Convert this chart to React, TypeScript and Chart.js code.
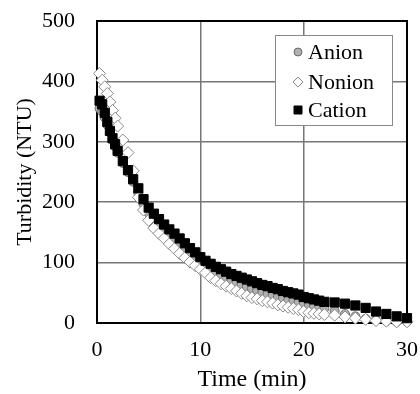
import { useEffect, useRef } from "react";
import { Chart, registerables } from "chart.js";

Chart.register(...registerables);

const times = [
  0.25, 0.5, 0.75, 1, 1.25, 1.5, 1.75, 2,
  2.5, 3, 3.5, 4, 4.5, 5, 5.5, 6, 6.5, 7, 7.5, 8, 8.5, 9, 9.5, 10,
  10.5, 11, 11.5, 12, 12.5, 13, 13.5, 14, 14.5, 15, 15.5, 16, 16.5, 17, 17.5, 18,
  18.5, 19, 19.5, 20, 20.5, 21, 21.5, 22,
  23, 24, 25, 26, 27, 28, 29, 30,
];

const anion = [
  355, 350, 340, 328, 315, 303, 292, 282,
  265, 250, 234, 215, 197, 182, 170, 161, 152, 144, 136, 128, 121, 114, 107, 100,
  94, 89, 84, 79, 75, 71, 67, 64, 60, 57, 54, 51, 48, 46, 43, 41,
  38, 36, 34, 32, 30, 28, 26, 24,
  20, 15, 11, 7, 5, 3, 2, 2,
];

const nonion = [
  413, 402, 391, 380, 366, 352, 339, 326,
  303, 282, 252, 208, 187, 170, 157, 148, 140, 131, 123, 115, 108, 101, 95, 89,
  83, 75, 70, 65, 61, 57, 53, 49, 45, 42, 40, 37, 35, 33, 30, 28,
  26, 24, 22, 19, 17, 16, 15, 14,
  13, 10, 8, 6, 4, 3, 2, 2,
];

const cation = [
  368, 362, 348, 333, 318, 306, 296, 285,
  268, 253, 238, 223, 205, 191, 181, 172, 163, 155, 148, 140, 132, 124, 117, 109,
  103, 98, 93, 89, 85, 81, 78, 75, 72, 69, 66, 63, 61, 58, 56, 53,
  51, 49, 47, 43, 41, 39, 37, 35,
  34, 32, 29, 25, 19, 15, 11, 8,
];

const seriesNames = ["Anion", "Nonion", "Cation"];
const xLabel = "Time (min)";
const yLabel = "Turbidity (NTU)";

const FONT = "'Liberation Serif', 'Times New Roman', serif";

const styles = [
  { pointStyle: "circle", radius: 4.5, bg: "#b0b0b0", border: "#6a6a6a", order: 2 },
  { pointStyle: "rectRot", radius: 6, bg: "#ffffff", border: "#8a8a8a", order: 1 },
  { pointStyle: "rect", radius: 6.5, bg: "#000000", border: "#000000", order: 0 },
];

const framePlugin = {
  id: "frame",
  beforeDatasetsDraw(chart: any) {
    const { ctx, chartArea } = chart;
    ctx.save();
    ctx.strokeStyle = "#000";
    ctx.lineWidth = 2;
    ctx.strokeRect(chartArea.left, chartArea.top, chartArea.right - chartArea.left, chartArea.bottom - chartArea.top);
    ctx.restore();
  },
};

const legendPlugin = {
  id: "boxLegend",
  afterDatasetsDraw(chart: any) {
    const { ctx, chartArea } = chart;
    const x0 = chartArea.right - 132;
    const y0 = chartArea.top + 14;
    const w = 117;
    const h = 90;
    ctx.save();
    ctx.fillStyle = "#fff";
    ctx.fillRect(x0, y0, w, h);
    ctx.strokeStyle = "#888";
    ctx.lineWidth = 1;
    ctx.strokeRect(x0 + 0.5, y0 + 0.5, w, h);
    ctx.font = `22px ${FONT}`;
    ctx.textBaseline = "middle";
    ctx.fillStyle = "#000";
    const rowY = [17, 47, 75];
    seriesNames.forEach((name, i) => {
      const cy = y0 + rowY[i];
      const cx = x0 + 23;
      const s = styles[i];
      ctx.fillStyle = s.bg;
      ctx.strokeStyle = s.border;
      ctx.lineWidth = 1;
      ctx.beginPath();
      if (s.pointStyle === "circle") {
        ctx.arc(cx, cy, 4, 0, Math.PI * 2);
      } else if (s.pointStyle === "rectRot") {
        ctx.moveTo(cx - 5, cy);
        ctx.lineTo(cx, cy - 5);
        ctx.lineTo(cx + 5, cy);
        ctx.lineTo(cx, cy + 5);
        ctx.closePath();
      } else {
        ctx.rect(cx - 4, cy - 4, 8, 8);
      }
      ctx.fill();
      ctx.stroke();
      ctx.fillStyle = "#000";
      ctx.fillText(name, x0 + 33, cy + 1);
    });
    ctx.restore();
  },
};

export default function App() {
  const ref = useRef<HTMLCanvasElement>(null);

  useEffect(() => {
    if (!ref.current) return;
    const series = [anion, nonion, cation];
    const chart = new Chart(ref.current, {
      type: "scatter",
      data: {
        datasets: series.map((vals, i) => ({
          label: seriesNames[i],
          data: times.map((t, j) => ({ x: t, y: vals[j] })),
          pointStyle: styles[i].pointStyle as any,
          pointRadius: styles[i].radius,
          pointBackgroundColor: styles[i].bg,
          pointBorderColor: styles[i].border,
          pointBorderWidth: 1,
          showLine: false,
          order: styles[i].order,
          clip: false as any,
        })),
      },
      options: {
        animation: false,
        responsive: false,
        maintainAspectRatio: false,
        layout: { padding: { top: 21, right: 13, left: 0, bottom: 0 } },
        plugins: { legend: { display: false }, tooltip: { enabled: false } },
        scales: {
          x: {
            type: "linear",
            min: 0,
            max: 30,
            ticks: { stepSize: 10, color: "#000", font: { family: FONT, size: 22 }, padding: 14, maxRotation: 0 },
            grid: { color: "#777", lineWidth: 1.5, drawTicks: false },
            border: { display: false },
            title: { display: true, text: xLabel, color: "#000", font: { family: FONT, size: 24 }, padding: { top: 0, bottom: 0 } },
            afterFit: (s: any) => { s.height = 71; s.paddingLeft = 0; s.paddingRight = 0; },
          },
          y: {
            min: 0,
            max: 500,
            ticks: { stepSize: 100, color: "#000", font: { family: FONT, size: 22 }, padding: 22 },
            grid: { color: "#777", lineWidth: 1.5, drawTicks: false },
            border: { display: false },
            title: { display: true, text: yLabel, color: "#000", font: { family: FONT, size: 22 }, padding: { top: 12, bottom: 0 } },
            afterFit: (s: any) => { s.width = 97; s.paddingTop = 0; s.paddingBottom = 0; },
          },
        },
      },
      plugins: [framePlugin, legendPlugin],
    });
    return () => chart.destroy();
  }, []);

  return (
    <div style={{ position: "fixed", left: 0, top: 0, width: 420, height: 394, background: "#fff" }}>
      <canvas ref={ref} width={420} height={394} style={{ width: 420, height: 394 }} />
    </div>
  );
}
